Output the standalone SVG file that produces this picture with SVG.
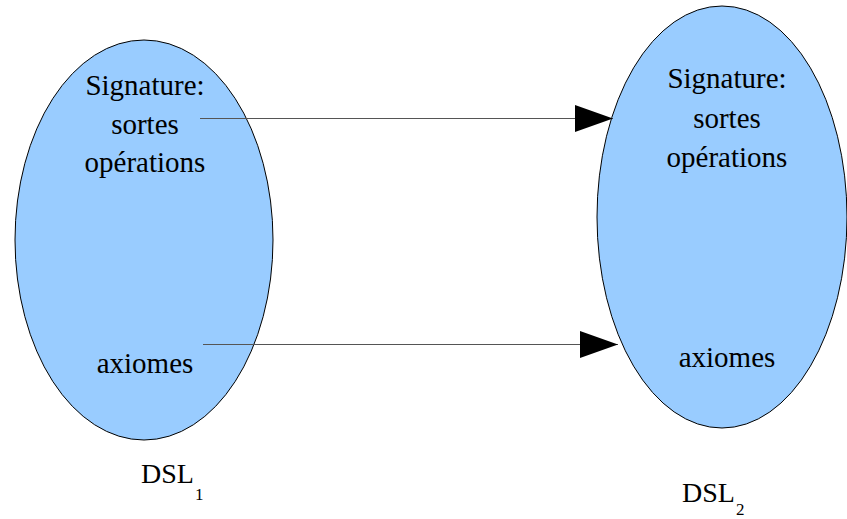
<svg xmlns="http://www.w3.org/2000/svg" width="847" height="519" viewBox="0 0 847 519">
<style>
.node{fill:#99ccff;stroke:#000;stroke-width:1}
.t{font-size:29px;fill:#000;text-anchor:middle}
.lbl{font-size:28px;fill:#000}
.sub{font-size:17px}
.conn{stroke:#555;stroke-width:1.2;fill:none}
</style>
<defs>
<marker id="arr" markerUnits="userSpaceOnUse" markerWidth="40" markerHeight="28" refX="38" refY="13.5" orient="auto">
<path d="M0,0 L38,13.5 L0,27 Z" fill="#000"/>
</marker>
</defs>
<rect width="847" height="519" fill="#fff"/>
<g id="dsl1" font-family="Liberation Serif, DejaVu Serif, serif">
<ellipse class="node" cx="144" cy="240" rx="129" ry="200"/>
<text class="t" x="145" y="95">Signature:</text>
<text class="t" x="145" y="134">sortes</text>
<text class="t" x="145" y="172">opérations</text>
<text class="t" x="145" y="373">axiomes</text>
</g>
<g id="dsl2" font-family="Liberation Serif, DejaVu Serif, serif">
<ellipse class="node" cx="722" cy="217" rx="125" ry="211"/>
<text class="t" x="727" y="88">Signature:</text>
<text class="t" x="727" y="128">sortes</text>
<text class="t" x="727" y="167">opérations</text>
<text class="t" x="727" y="367">axiomes</text>
</g>
<g id="label1" font-family="Liberation Serif, DejaVu Serif, serif">
<text class="lbl" x="141" y="483">DSL<tspan class="sub" dx="1" dy="17">1</tspan></text>
</g>
<g id="label2" font-family="Liberation Serif, DejaVu Serif, serif">
<text class="lbl" x="682" y="502">DSL<tspan class="sub" dx="1" dy="13">2</tspan></text>
</g>
<g id="connectors">
<line class="conn" x1="200" y1="118.5" x2="613" y2="118.5" marker-end="url(#arr)"/>
<line class="conn" x1="203" y1="344.5" x2="618" y2="344.5" marker-end="url(#arr)"/>
</g>
</svg>
